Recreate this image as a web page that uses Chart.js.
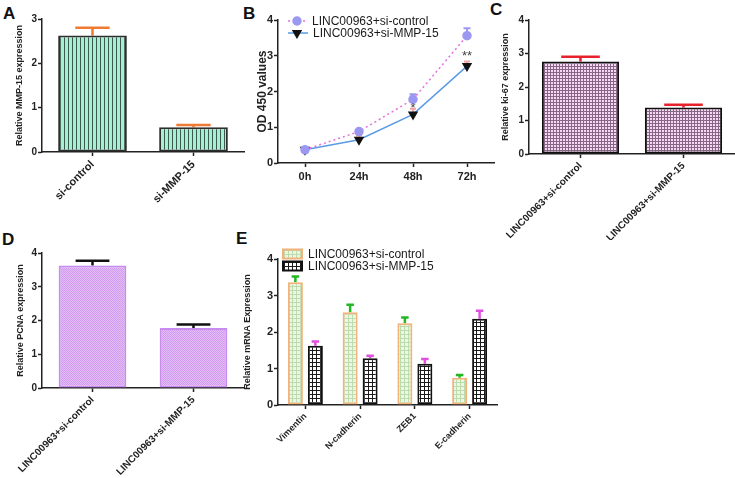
<!DOCTYPE html>
<html>
<head>
<meta charset="utf-8">
<script src="https://cdn.jsdelivr.net/npm/chart.js@4.4.1/dist/chart.umd.min.js"></script>
<style>
body { margin: 0; width: 735px; height: 478px; overflow: hidden; background: #fff; position: relative; font-family: "Liberation Sans", Arial, sans-serif; }
canvas { position: absolute; }
.tag { position: absolute; font-weight: bold; font-size: 17px; line-height: 17px; color: #111; }
</style>
</head>
<body>
<div class="tag" style="left:3px;top:5px">A</div>
<div class="tag" style="left:243px;top:5px">B</div>
<div class="tag" style="left:490px;top:1px">C</div>
<div class="tag" style="left:2px;top:231px">D</div>
<div class="tag" style="left:236px;top:230px">E</div>
<canvas id="chartA"></canvas>
<canvas id="chartB"></canvas>
<canvas id="chartC"></canvas>
<canvas id="chartD"></canvas>
<canvas id="chartE"></canvas>
<script>
// data
const aLabels = ['si-control', 'si-MMP-15'];
const aMeans = [2.63, 0.56];
const aErrors = [0.17, 0.05];

const bLabels = ['0h', '24h', '48h', '72h'];
const bControl = [0.37, 0.88, 1.78, 3.56];
const bControlErr = [0.03, 0.03, 0.14, 0.21];
const bMmp = [0.37, 0.65, 1.36, 2.71];
const bMmpErr = [0.02, 0.12, 0.16, 0.13];
const bStars = ['', '', '*', '**'];
const bStarY = [null, null, 1.62, 3.06];

const cLabels = ['LINC00963+si-control', 'LINC00963+si-MMP-15'];
const cMeans = [2.76, 1.39];
const cErrors = [0.14, 0.08];

const dLabels = ['LINC00963+si-control', 'LINC00963+si-MMP-15'];
const dMeans = [3.63, 1.78];
const dErrors = [0.14, 0.10];

const eLabels = ['Vimentin', 'N-cadherin', 'ZEB1', 'E-cadherin'];
const eControl = [3.36, 2.54, 2.24, 0.75];
const eControlErr = [0.16, 0.21, 0.16, 0.07];
const eMmp = [1.62, 1.28, 1.13, 2.36];
const eMmpErr = [0.12, 0.07, 0.13, 0.22];

const AXIS = '#222';
const FONT = '"Liberation Sans", Arial, sans-serif';
Chart.defaults.font.family = FONT;
Chart.defaults.color = '#222';

function makePattern(size, bg, line, kind) {
    const c = document.createElement('canvas');
    c.width = size; c.height = size;
    const g = c.getContext('2d');
    g.fillStyle = bg;
    g.fillRect(0, 0, size, size);
    g.fillStyle = line;
    if (kind === 'stripes' || kind === 'grid') g.fillRect(0, 0, 1, size);
    if (kind === 'grid') g.fillRect(1, 0, size - 1, 1);
    if (kind === 'dots') { g.fillRect(0, 0, 1, 1); g.fillRect(1, 1, 1, 1); }
    return g.createPattern(c, 'repeat');
}

const patA = makePattern(4, '#a6efd3', '#3a5a4e', 'stripes');
const patC = makePattern(3, '#f7d7f3', 'rgba(40,10,40,0.55)', 'grid');
const patD = makePattern(2, '#e4bef8', '#d09aef', 'dots');
const patEctrl = makePattern(4, '#eaf7e2', '#bcdcae', 'grid');
const patEmmp = makePattern(4, '#ffffff', '#1a1a1a', 'grid');

// error bars, drawn before the marks so bars/points sit on top
const errorBars = {
    id: 'errorBars',
    beforeDatasetsDraw(chart) {
        const ctx = chart.ctx;
        const ys = chart.scales.y;
        chart.data.datasets.forEach((ds, i) => {
            if (!ds.errors) return;
            chart.getDatasetMeta(i).data.forEach((el, j) => {
                const err = ds.errors[j];
                if (!err) return;
                const top = ys.getPixelForValue(ds.data[j] + err);
                const cap = ds.capWidth || el.width * 0.5;
                ctx.save();
                ctx.strokeStyle = ds.errorColor;
                ctx.lineWidth = ds.errorWidth || 2.5;
                ctx.beginPath();
                ctx.moveTo(el.x, el.y);
                ctx.lineTo(el.x, top);
                ctx.moveTo(el.x - cap / 2, top);
                ctx.lineTo(el.x + cap / 2, top);
                ctx.stroke();
                ctx.restore();
            });
        });
    }
};

const stars = {
    id: 'stars',
    afterDatasetsDraw(chart) {
        const ctx = chart.ctx;
        ctx.save();
        ctx.fillStyle = '#444';
        ctx.font = '13px ' + FONT;
        ctx.textAlign = 'center';
        ctx.textBaseline = 'middle';
        bStars.forEach((s, i) => {
            if (!s) return;
            ctx.fillText(s, chart.scales.x.getPixelForValue(i), chart.scales.y.getPixelForValue(bStarY[i]) + 3);
        });
        ctx.restore();
    }
};

function legendPlugin(box, items) {
    return {
        id: 'panelLegend',
        afterDraw(chart) {
            const ctx = chart.ctx;
            ctx.save();
            items.forEach(it => {
                const y = it.y - box.y;
                const x0 = it.x0 - box.x;
                if (it.kind === 'line') {
                    ctx.strokeStyle = it.line;
                    ctx.lineWidth = 1.5;
                    ctx.setLineDash(it.dash || []);
                    ctx.beginPath();
                    ctx.moveTo(x0, y);
                    ctx.lineTo(x0 + 20, y);
                    ctx.stroke();
                    ctx.setLineDash([]);
                    ctx.fillStyle = it.marker;
                    ctx.strokeStyle = it.marker;
                    Chart.helpers.drawPoint(ctx, { pointStyle: it.style, radius: it.radius, rotation: it.rotation || 0, borderWidth: 1 }, x0 + 9, y);
                } else {
                    ctx.fillStyle = it.fill;
                    ctx.fillRect(x0, y - 4.5, 19, 9);
                    ctx.strokeStyle = it.line;
                    ctx.lineWidth = 2;
                    ctx.strokeRect(x0, y - 4.5, 19, 9);
                }
                ctx.fillStyle = '#1a1a1a';
                ctx.font = '12px ' + FONT;
                ctx.textAlign = 'left';
                ctx.textBaseline = 'middle';
                ctx.fillText(it.text, it.tx - box.x, y + 0.5);
            });
            ctx.restore();
        }
    };
}

function yAxis(max, title, titleSize, titlePad, tickSize) {
    return {
        min: 0, max: max,
        border: { color: AXIS, width: 1.5 },
        grid: { drawOnChartArea: false, tickLength: 4, tickWidth: 1.5, tickColor: AXIS },
        ticks: { stepSize: 1, padding: 1, color: '#222', font: { size: tickSize, weight: 'bold' } },
        title: { display: true, text: title, color: '#222', font: { size: titleSize, weight: 'bold' }, padding: { top: titlePad, bottom: 0 } }
    };
}

function xAxis(rot, size, pad) {
    return {
        offset: true,
        border: { color: AXIS, width: 1.5 },
        grid: { drawOnChartArea: false, offset: false, tickLength: 4, tickWidth: 1.5, tickColor: AXIS },
        ticks: { autoSkip: false, maxRotation: rot, minRotation: rot, padding: pad, color: '#222', font: { size: size, weight: 'bold' } }
    };
}

function panel(id, box, area, config) {
    const cv = document.getElementById(id);
    cv.width = box.w;
    cv.height = box.h;
    cv.style.left = box.x + 'px';
    cv.style.top = box.y + 'px';
    config.options.responsive = false;
    config.options.animation = false;
    config.options.devicePixelRatio = 1;
    config.options.layout = { padding: { left: 0, bottom: 0, top: area.top - box.y, right: box.x + box.w - area.right } };
    config.options.scales.x.afterFit = s => { s.height = box.y + box.h - area.bottom; };
    config.options.scales.y.afterFit = s => { s.width = area.left - box.x; };
    config.options.plugins = Object.assign({ legend: { display: false }, tooltip: { enabled: false } }, config.options.plugins || {});
    return new Chart(cv, config);
}

function barSet(data, errors, fill, border, errColor, barPct, catPct) {
    return {
        data: data, errors: errors, errorColor: errColor,
        backgroundColor: fill, borderColor: border, borderWidth: 2, borderSkipped: false,
        barPercentage: barPct, categoryPercentage: catPct
    };
}

// A
panel('chartA', { x: 0, y: 0, w: 250, h: 230 }, { left: 42, right: 244, top: 19, bottom: 152 }, {
    type: 'bar',
    data: { labels: aLabels, datasets: [barSet(aMeans, aErrors, patA, '#2e2e2e', '#f07a32', 0.68, 1)] },
    options: { scales: { x: xAxis(45, 11, 2), y: yAxis(3, 'Relative MMP-15 expression', 9, 14, 10) } },
    plugins: [errorBars]
});

// B
const boxB = { x: 240, y: 0, w: 260, h: 230 };
panel('chartB', boxB, { left: 278, right: 498, top: 20, bottom: 163 }, {
    type: 'line',
    data: {
        labels: bLabels,
        datasets: [
            {
                label: 'LINC00963+si-control', data: bControl, errors: bControlErr, errorColor: '#9c98f2', capWidth: 7, errorWidth: 2,
                borderColor: '#e46fdc', borderWidth: 1.5, borderDash: [2, 3], tension: 0,
                pointStyle: 'circle', pointRadius: 4, pointBackgroundColor: '#9c98f2', pointBorderColor: '#9c98f2'
            },
            {
                label: 'LINC00963+si-MMP-15', data: bMmp, errors: bMmpErr, errorColor: '#f2a4a4', capWidth: 6, errorWidth: 2,
                borderColor: '#5b9be6', borderWidth: 1.5, tension: 0,
                pointStyle: 'triangle', rotation: 180, pointRadius: 4.5, pointBackgroundColor: '#111', pointBorderColor: '#111'
            }
        ]
    },
    options: { scales: { x: xAxis(0, 11, 3), y: yAxis(4, 'OD 450 values', 12, 15, 11) } },
    plugins: [errorBars, stars, legendPlugin(boxB, [
        { kind: 'line', x0: 288, y: 21, line: '#e46fdc', dash: [2, 3], marker: '#9c98f2', style: 'circle', radius: 4, text: 'LINC00963+si-control', tx: 312 },
        { kind: 'line', x0: 288, y: 33, line: '#5b9be6', marker: '#111', style: 'triangle', rotation: 180, radius: 4.5, text: 'LINC00963+si-MMP-15', tx: 313 }
    ])]
});

// C
panel('chartC', { x: 490, y: 0, w: 245, h: 240 }, { left: 529, right: 735, top: 20, bottom: 154 }, {
    type: 'bar',
    data: { labels: cLabels, datasets: [barSet(cMeans, cErrors, patC, '#111', '#e8222a', 0.75, 1)] },
    options: { scales: { x: xAxis(45, 10, 2), y: yAxis(4, 'Relative ki-67 expression', 9, 10, 10) } },
    plugins: [errorBars]
});

// D
panel('chartD', { x: 0, y: 230, w: 250, h: 248 }, { left: 42, right: 244, top: 253, bottom: 388 }, {
    type: 'bar',
    data: { labels: dLabels, datasets: [barSet(dMeans, dErrors, patD, '#c68cf0', '#111', 0.67, 1)] },
    options: { scales: { x: xAxis(45, 10, 2), y: yAxis(4, 'Relative PCNA expression', 9, 15, 10) } },
    plugins: [errorBars]
});

// E
const boxE = { x: 236, y: 230, w: 265, h: 248 };
panel('chartE', boxE, { left: 278, right: 497, top: 259, bottom: 405 }, {
    type: 'bar',
    data: {
        labels: eLabels,
        datasets: [
            barSet(eControl, eControlErr, patEctrl, '#f2b27a', '#23b823', 0.75, 0.73),
            barSet(eMmp, eMmpErr, patEmmp, '#111', '#e050e0', 0.75, 0.73)
        ]
    },
    options: { scales: { x: xAxis(45, 9, 2), y: yAxis(4, 'Relative mRNA Expression', 9, 6, 11) } },
    plugins: [errorBars, legendPlugin(boxE, [
        { kind: 'box', x0: 283, y: 254, fill: patEctrl, line: '#f2b27a', text: 'LINC00963+si-control', tx: 308 },
        { kind: 'box', x0: 283, y: 266, fill: patEmmp, line: '#111', text: 'LINC00963+si-MMP-15', tx: 308 }
    ])]
});
</script>
</body>
</html>
